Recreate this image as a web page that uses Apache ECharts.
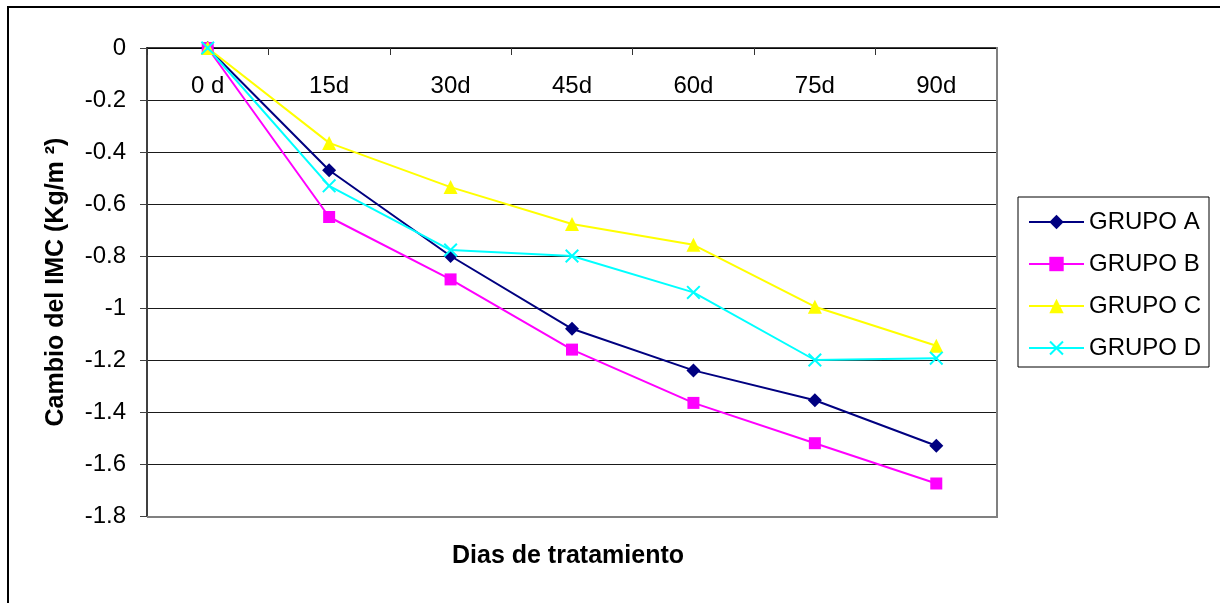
<!DOCTYPE html>
<html>
<head>
<meta charset="utf-8">
<title>Cambio del IMC</title>
<script src="https://cdn.jsdelivr.net/npm/echarts@6/dist/echarts.min.js"></script>
<style>
  html, body { margin: 0; padding: 0; background: #fff; }
  #chart { width: 1220px; height: 603px; }
</style>
</head>
<body>
<div id="chart"></div>
<script>
// datos
var dias = ['0 d', '15d', '30d', '45d', '60d', '75d', '90d'];
var grupoA = [0, -0.47, -0.80, -1.08, -1.24, -1.355, -1.53];
var grupoB = [0, -0.65, -0.89, -1.16, -1.365, -1.52, -1.675];
var grupoC = [0, -0.365, -0.535, -0.677, -0.757, -0.995, -1.145];
var grupoD = [0, -0.53, -0.777, -0.80, -0.94, -1.20, -1.193];
var yTicks = { min: -1.8, max: 0, step: 0.2 };

var fuente = 'Arial, "Liberation Sans", sans-serif';
// X como poligono relleno
var cruz = 'path://M0,1L1,0L5,4L9,0L10,1L6,5L10,9L9,10L5,6L1,10L0,9L4,5Z';

var myChart = echarts.init(document.getElementById('chart'));

function serie(nombre, datos, color, simbolo, tam) {
  return {
    name: nombre,
    type: 'line',
    data: datos,
    color: color,
    symbol: simbolo,
    symbolSize: tam,
    showAllSymbol: true,
    lineStyle: { width: 2, color: color },
    itemStyle: { color: color },
    animation: false
  };
}

var option = {
  animation: false,
  backgroundColor: '#fff',
  textStyle: { fontFamily: fuente },
  grid: { left: 147, top: 48, width: 850, height: 468, containLabel: false },
  title: {
    text: 'Dias de tratamiento',
    left: 452,
    top: 544,
    padding: 0,
    textStyle: { fontFamily: fuente, fontSize: 25, fontWeight: 'bold', color: '#000' }
  },
  legend: {
    orient: 'vertical',
    left: 1018,
    top: 197,
    padding: [13, 8, 7, 10],
    itemGap: 18,
    itemWidth: 55,
    itemHeight: 18,
    borderColor: '#000',
    borderWidth: 1,
    textStyle: { fontFamily: fuente, fontSize: 24, color: '#000' },
    data: ['GRUPO A', 'GRUPO B', 'GRUPO C', 'GRUPO D']
  },
  xAxis: {
    type: 'category',
    data: dias,
    position: 'top',
    boundaryGap: true,
    axisLine: { show: true, lineStyle: { color: '#000', width: 1.5 } },
    axisTick: { show: true, inside: true, length: 7, lineStyle: { color: '#333' } },
    axisLabel: { inside: true, margin: 26, fontSize: 24, color: '#000', fontFamily: fuente, interval: 0 },
    splitLine: { show: false }
  },
  yAxis: {
    type: 'value',
    min: yTicks.min,
    max: yTicks.max,
    interval: yTicks.step,
    name: 'Cambio del IMC (Kg/m ²)',
    nameLocation: 'middle',
    nameGap: 78,
    nameTextStyle: { fontFamily: fuente, fontSize: 25, fontWeight: 'bold', color: '#000' },
    axisLine: { show: true, lineStyle: { color: '#404040', width: 2 } },
    axisTick: { show: true, length: 7, lineStyle: { color: '#404040' } },
    axisLabel: {
      margin: 21, fontSize: 24, color: '#000', fontFamily: fuente,
      formatter: function (v) { return String(+v.toFixed(1)); }
    },
    splitLine: { show: true, lineStyle: { color: '#1a1a1a', width: 1 } }
  },
  graphic: [
    // marco exterior del grafico
    { type: 'rect', shape: { x: 8, y: 7, width: 1400, height: 800 },
      style: { fill: 'none', stroke: '#000', lineWidth: 2 }, z: 100 },
    // borde gris derecho e inferior del area de trazado
    { type: 'line', shape: { x1: 997, y1: 47, x2: 997, y2: 517 },
      style: { stroke: '#808080', lineWidth: 2 }, z: 1 },
    { type: 'line', shape: { x1: 147, y1: 517, x2: 998, y2: 517 },
      style: { stroke: '#808080', lineWidth: 2 }, z: 1 }
  ],
  series: [
    serie('GRUPO A', grupoA, '#000080', 'diamond', 14),
    serie('GRUPO B', grupoB, '#ff00ff', 'rect', 12),
    serie('GRUPO C', grupoC, '#ffff00', 'triangle', 14),
    serie('GRUPO D', grupoD, '#00ffff', cruz, 14)
  ]
};

myChart.clear();
myChart.setOption(option);
window.addEventListener('resize', function () {
  myChart.resize();
});
</script>
</body>
</html>
